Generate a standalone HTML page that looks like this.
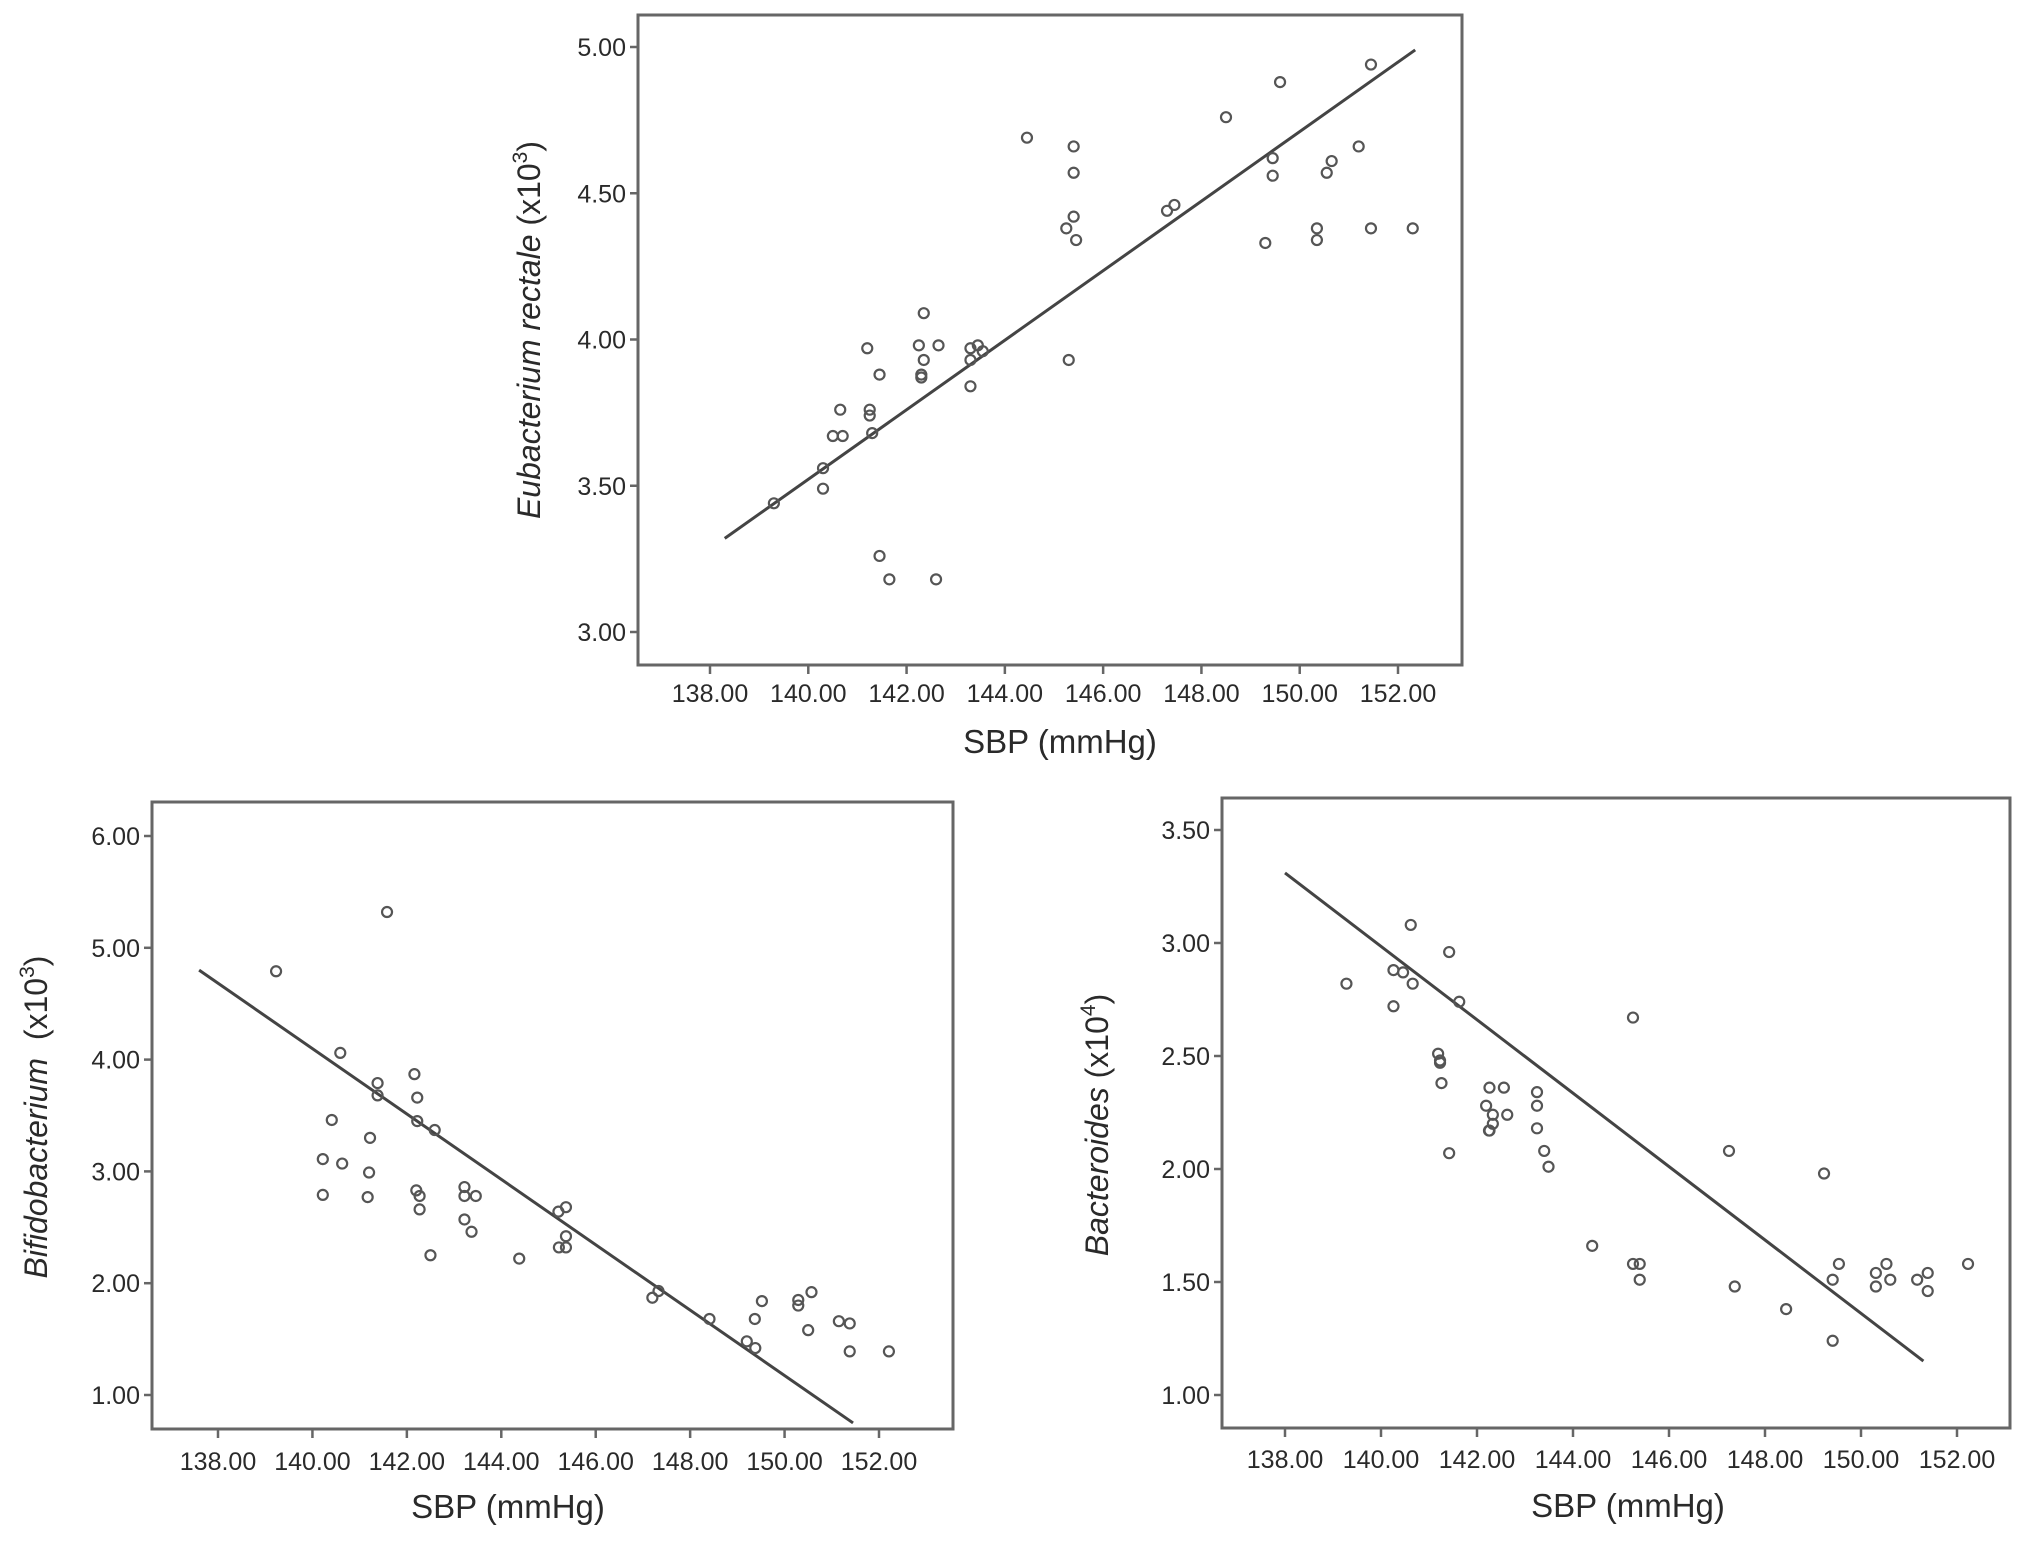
<!DOCTYPE html>
<html><head><meta charset="utf-8">
<style>
html,body{margin:0;padding:0;background:#fff;}
svg{display:block;}
text{font-family:"Liberation Sans",sans-serif;fill:#2a2a2a;}
</style></head>
<body>
<svg id="fig" width="2031" height="1541" viewBox="0 0 2031 1541" xmlns="http://www.w3.org/2000/svg"></svg>
<script>
// ---- Chart 1: Eubacterium rectale ----
const euX = [139.3,140.3,140.3,140.5,140.7,140.65,141.2,141.25,141.25,141.3,141.45,141.45,141.65,142.25,142.3,142.3,142.35,142.35,142.65,142.6,143.3,143.3,143.3,143.45,143.55,144.45,145.25,145.3,145.4,145.4,145.4,145.45,147.3,147.45,148.5,149.3,149.45,149.45,149.6,150.35,150.35,150.55,150.65,151.2,151.45,151.45,152.3];
const euY = [3.44,3.56,3.49,3.67,3.67,3.76,3.97,3.76,3.74,3.68,3.88,3.26,3.18,3.98,3.88,3.87,4.09,3.93,3.98,3.18,3.97,3.93,3.84,3.98,3.96,4.69,4.38,3.93,4.66,4.57,4.42,4.34,4.44,4.46,4.76,4.33,4.62,4.56,4.88,4.38,4.34,4.57,4.61,4.66,4.94,4.38,4.38];
const euFitX = [138.3,152.35];
const euFitY = [3.32,4.99];
const euYTicks = [3.00,3.50,4.00,4.50,5.00];

// ---- Chart 2: Bifidobacterium ----
const biX = [139.23,141.58,140.59,140.41,140.22,140.63,140.22,141.22,141.2,141.17,141.38,141.38,142.16,142.22,142.22,142.59,142.2,142.27,142.27,142.5,143.22,143.22,143.46,143.22,143.37,144.38,145.21,145.37,145.22,145.37,145.37,147.2,147.33,148.41,149.2,149.38,149.37,149.52,150.29,150.29,150.57,150.5,151.15,151.38,151.38,152.21];
const biY = [4.79,5.32,4.06,3.46,3.11,3.07,2.79,3.30,2.99,2.77,3.79,3.68,3.87,3.66,3.45,3.37,2.83,2.78,2.66,2.25,2.86,2.78,2.78,2.57,2.46,2.22,2.64,2.68,2.32,2.32,2.42,1.87,1.93,1.68,1.48,1.42,1.68,1.84,1.85,1.80,1.92,1.58,1.66,1.64,1.39,1.39];
const biFitX = [137.6,151.45];
const biFitY = [4.80,0.75];
const biYTicks = [1.00,2.00,3.00,4.00,5.00,6.00];

// ---- Chart 3: Bacteroides ----
const baX = [139.28,140.26,140.46,140.26,140.62,140.66,141.42,141.63,141.19,141.23,141.23,141.26,141.42,142.26,142.56,142.19,142.33,142.63,142.33,142.26,142.25,143.25,143.25,143.25,143.4,143.49,144.4,145.25,145.25,145.39,145.39,147.25,147.37,148.44,149.23,149.41,149.41,149.54,150.31,150.31,150.53,150.61,151.17,151.39,151.39,152.23];
const baY = [2.82,2.88,2.87,2.72,3.08,2.82,2.96,2.74,2.51,2.47,2.48,2.38,2.07,2.36,2.36,2.28,2.24,2.24,2.20,2.17,2.17,2.34,2.28,2.18,2.08,2.01,1.66,2.67,1.58,1.58,1.51,2.08,1.48,1.38,1.98,1.51,1.24,1.58,1.54,1.48,1.58,1.51,1.51,1.54,1.46,1.58];
const baFitX = [138.0,151.3];
const baFitY = [3.31,1.15];
const baYTicks = [1.00,1.50,2.00,2.50,3.00,3.50];

const xTicks = [138,140,142,144,146,148,150,152];

const NS = 'http://www.w3.org/2000/svg';
const svg = document.getElementById('fig');
function mk(tag, attrs, parent){
  const e = document.createElementNS(NS, tag);
  for (const k in attrs) e.setAttribute(k, attrs[k]);
  (parent||svg).appendChild(e);
  return e;
}

function drawChart(cfg){
  const g = mk('g', {});
  
  
  const sx = v => cfg.x0px + (v - cfg.x0v) * (cfg.x1px - cfg.x0px) / (cfg.x1v - cfg.x0v);
  const sy = v => cfg.y0px + (v - cfg.y0v) * (cfg.y1px - cfg.y0px) / (cfg.y1v - cfg.y0v);
  const f = cfg.frame;
  const fr = mk('rect', {x:f[0], y:f[1], width:f[2]-f[0], height:f[3]-f[1], fill:'none', stroke:'#666', 'stroke-width':3}, g);
  
  
  cfg.yTicks.forEach(v => {
    const y = sy(v);
    const t = mk('line', {x1:f[0]-8, x2:f[0], y1:y, y2:y, stroke:'#666', 'stroke-width':2.5}, g);
    
    
    const lb = mk('text', {x:f[0]-12, y:y+9, 'font-size':25, 'text-anchor':'end'}, g);
    lb.textContent = v.toFixed(2);
    
    
  });
  xTicks.forEach(v => {
    const x = sx(v);
    const t = mk('line', {x1:x, x2:x, y1:f[3], y2:f[3]+9, stroke:'#666', 'stroke-width':2.5}, g);
    
    
    const lb = mk('text', {x:x, y:cfg.xLabY, 'font-size':25, 'text-anchor':'middle'}, g);
    lb.textContent = v.toFixed(2);
    
    
  });
  const xt = mk('text', {x:cfg.xTitleX, y:cfg.xTitleY, 'font-size':33, 'text-anchor':'middle'}, g);
  xt.textContent = 'SBP (mmHg)';
  
  
  const yt = mk('text', {x:0, y:0, 'font-size':32, 'text-anchor':'middle', transform:'translate('+cfg.yTitleX+','+cfg.yTitleY+') rotate(-90)'}, g);
  
  
  const t1 = mk('tspan', {'font-style':'italic'}, yt); t1.textContent = cfg.yTitle;
  const t2 = mk('tspan', {}, yt); t2.textContent = cfg.yGap + '(x10';
  const t3 = mk('tspan', {'font-size':21, dy:-13}, yt); t3.textContent = cfg.yExp;
  const t4 = mk('tspan', {dy:13}, yt); t4.textContent = ')';
  const ln = mk('line', {x1:sx(cfg.fitX[0]), y1:sy(cfg.fitY[0]), x2:sx(cfg.fitX[1]), y2:sy(cfg.fitY[1]), stroke:'#444', 'stroke-width':3}, g);
  
  
  cfg.xs.forEach((xv, i) => {
    const c = mk('circle', {cx:sx(xv), cy:sy(cfg.ys[i]), r:5, fill:'none', stroke:'#555', 'stroke-width':2.2}, g);
    
    
  });
}

drawChart({name:'eubacterium-chart', frame:[638,15,1462,665],
  x0v:138, x1v:152, x0px:710, x1px:1398, y0v:3, y1v:5, y0px:632, y1px:47,
  yTicks:euYTicks, xs:euX, ys:euY, fitX:euFitX, fitY:euFitY,
  xLabY:702, xTitleX:1060, xTitleY:753, yTitleX:540, yTitleY:330,
  yTitle:'Eubacterium rectale', yGap:' ', yExp:'3'});

drawChart({name:'bifidobacterium-chart', frame:[152,802,953,1429],
  x0v:138, x1v:152, x0px:218, x1px:879, y0v:1, y1v:6, y0px:1395, y1px:836,
  yTicks:biYTicks, xs:biX, ys:biY, fitX:biFitX, fitY:biFitY,
  xLabY:1470, xTitleX:508, xTitleY:1518, yTitleX:47, yTitleY:1117,
  yTitle:'Bifidobacterium', yGap:'\u00a0\u00a0', yExp:'3'});

drawChart({name:'bacteroides-chart', frame:[1222,798,2010,1428],
  x0v:138, x1v:152, x0px:1285, x1px:1957, y0v:1, y1v:3.5, y0px:1395, y1px:830,
  yTicks:baYTicks, xs:baX, ys:baY, fitX:baFitX, fitY:baFitY,
  xLabY:1468, xTitleX:1628, xTitleY:1517, yTitleX:1108, yTitleY:1125,
  yTitle:'Bacteroides', yGap:' ', yExp:'4'});
</script>
</body></html>
